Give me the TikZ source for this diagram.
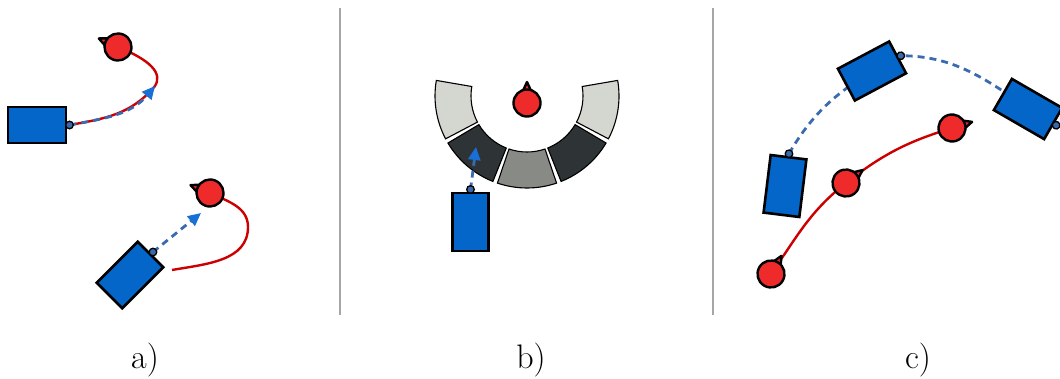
\documentclass[tikz,border=0pt]{standalone}
\usetikzlibrary{arrows.meta,backgrounds}

\definecolor{cartblue}{RGB}{3,102,200}
\definecolor{hitchblue}{RGB}{58,104,168}
\definecolor{trailblue}{RGB}{58,107,176}
\definecolor{tipblue}{RGB}{24,112,214}
\definecolor{botred}{RGB}{239,42,42}
\definecolor{pathred}{RGB}{204,0,0}
\definecolor{alulight}{RGB}{211,215,207}
\definecolor{alumid}{RGB}{136,138,133}
\definecolor{aludark}{RGB}{46,52,54}

% red robot: x, y, heading, name
\newcommand{\redbot}[4]{%
  \begin{scope}[shift={(#1,#2)},rotate=#3]
    \draw[botbody] (21,0) -- (9,5.5) -- (9,-5.5) -- cycle;
    \draw[botbody] (0,0) circle (13.5);
    \coordinate (#4) at (0,0);
  \end{scope}}

% blue cart with hitch: x, y, heading, name (name = hitch point)
\newcommand{\bluecart}[4]{%
  \begin{scope}[shift={(#1,#2)},rotate=#3]
    \draw[cartbody] (-29,-18) rectangle (29,18);
    \draw[hitch] (32.5,0) circle (3.8);
    \coordinate (#4) at (32.5,0);
  \end{scope}}

\begin{document}
\begin{tikzpicture}[x=1pt,y=1pt,
    botbody/.style={draw=black,fill=botred,line width=2.4pt,line join=round},
    cartbody/.style={draw=black,fill=cartblue,line width=2.6pt},
    hitch/.style={draw=black,fill=hitchblue,line width=1.3pt},
    redpath/.style={draw=pathred,line width=2.4pt},
    trail/.style={draw=trailblue,line width=2.8pt,dash pattern=on 7pt off 5pt},
    trailarrow/.style={trail,-{Triangle[length=13pt,width=12pt,color=tipblue]}},
    sector/.style={draw=black,line width=1.1pt},
    divider/.style={draw=gray!70,line width=1.3pt},
    caption/.style={font=\fontsize{34}{40}\selectfont,anchor=base}]

      \useasboundingbox (0,0) rectangle (1060,378);

      % Panel a
      \bluecart{37}{253}{0}{ca}
      \redbot{118}{331}{156}{ra}
      \coordinate (ta) at (155,292);

      \bluecart{130}{103}{45}{cb}
      \redbot{210}{185}{158}{rb}
      \coordinate (tb) at (201,165);
      \coordinate (eb) at (172,108);

      % Panel b
      \redbot{527}{275}{90}{rc}
      \bluecart{470.5}{156}{90}{cc}
      \coordinate (tc) at (476,231);

      % Panel c
      \bluecart{785}{192}{83}{c1}
      \bluecart{872}{307}{28}{c2}
      \bluecart{1028}{269}{-30}{c3}
      \redbot{771}{104}{60}{r1}
      \redbot{846}{195}{38}{r2}
      \redbot{952}{250}{17}{r3}

      \begin{pgfonlayer}{background}
        % ring of sectors
        \begin{scope}[shift={(527,282)}]
          \foreach \a/\tone in {189/alulight,229.5/aludark,270/alumid,310.5/aludark,351/alulight}
            \draw[sector,fill=\tone] (\a-18.75:56) -- (\a-18.75:92)
              arc[start angle=\a-18.75,end angle=\a+18.75,radius=92] -- (\a+18.75:56)
              arc[start angle=\a+18.75,end angle=\a-18.75,radius=56] -- cycle;
        \end{scope}

        % paths
        \draw[redpath] (ra) .. controls (150,318) and (163,305) .. (ta) to[out=-130,in=10] (ca);
        \draw[trailarrow] (ca) to[out=10,in=-130] (ta);

        \draw[redpath] (rb) to[out=-25,in=90] (248,151) to[out=-90,in=10] (eb);
        \draw[trailarrow] (cb) -- (tb);

        \draw[trailarrow] (cc) -- (tc);

        \draw[trail] (c1) to[out=60,in=208] (c2) to[out=0,in=150] (c3);
        \draw[redpath] (r1) to[out=55,in=218] (r2) to[out=38,in=197] (r3);
      \end{pgfonlayer}

      % Dividers
      \draw[divider] (340,370) -- (340,63);
      \draw[divider] (713,370) -- (713,63);

      % Labels
      \node[caption] (la) at (145,10) {a)};
      \node[caption] (lb) at (531,10) {b)};
      \node[caption] (lc) at (918,10) {c)};

\end{tikzpicture}
\end{document}
